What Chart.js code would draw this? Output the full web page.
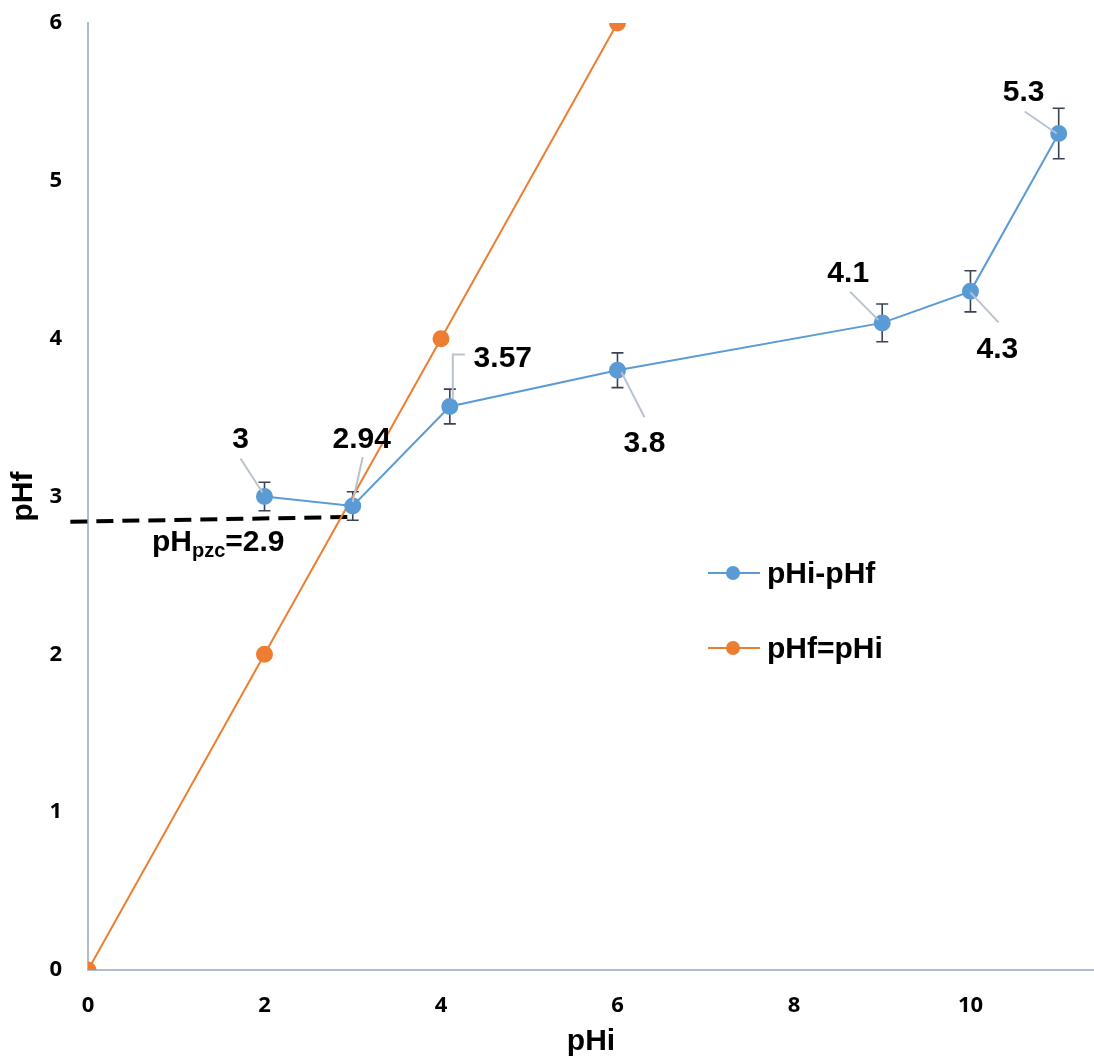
<!DOCTYPE html>
<html>
<head>
<meta charset="utf-8">
<script src="https://cdn.jsdelivr.net/npm/chart.js@4.4.0/dist/chart.umd.min.js"></script>
<style>
  html, body { margin: 0; padding: 0; background: #fff; overflow: hidden; }
  #wrap { width: 1094px; height: 1061px; }
</style>
</head>
<body>
<div id="wrap"><canvas id="chart"></canvas></div>
<script>
// pHi-pHf series (measured)
const pHi = [2, 3, 4.1, 6, 9, 10, 11];
const pHf = [3, 2.94, 3.57, 3.8, 4.1, 4.3, 5.3];
const pHfErr = [0.09, 0.09, 0.11, 0.11, 0.12, 0.13, 0.16];

// pHf = pHi reference line
const refX = [0, 2, 4, 6];
const refY = [0, 2, 4, 6];

// point of zero charge, dashed guide line
const pzcValue = 2.9;
const pzcLineX = [-0.2, 2.95];
const pzcLineY = [2.84, 2.87];

const xTicks = [0, 2, 4, 6, 8, 10];
const yTicks = [0, 1, 2, 3, 4, 5, 6];

// where each value label sits relative to its point (pixels)
const labelOffsets = [
  { dx: -24, dy: -60, leader: [[-24, -38], [-2, -4]] },
  { dx: 9, dy: -69, leader: [[10, -49], [0, -4]] },
  { dx: 53, dy: -51, leader: [[15, -52], [3, -52], [3, -7]] },
  { dx: 27, dy: 71, leader: [[4, 2], [27, 47]] },
  { dx: -34, dy: -52, leader: [[-32, -31], [-4, -3]] },
  { dx: 27, dy: 56, leader: [[0, 1], [28, 31]] },
  { dx: -35, dy: -43, leader: [[-34, -22], [-2, 0]] }
];

const BLUE = '#5b9bd5';
const ORANGE = '#ed7d31';
const AXIS = '#b0bccf';
const LABEL_FONT = 'bold 30px "Liberation Sans", Arial, sans-serif';
const TICK_FONT = { family: 'Open Sans', size: 22, weight: 'bold' };

const errorBars = {
  id: 'errorBars',
  beforeDatasetsDraw(chart) {
    const x = chart.scales.x, y = chart.scales.y, ctx = chart.ctx;
    ctx.save();
    ctx.strokeStyle = '#3a4354';
    ctx.lineWidth = 1.6;
    pHi.forEach((v, i) => {
      const px = x.getPixelForValue(v);
      const top = y.getPixelForValue(pHf[i] + pHfErr[i]);
      const bot = y.getPixelForValue(pHf[i] - pHfErr[i]);
      ctx.beginPath();
      ctx.moveTo(px, top); ctx.lineTo(px, bot);
      ctx.moveTo(px - 6, top); ctx.lineTo(px + 6, top);
      ctx.moveTo(px - 6, bot); ctx.lineTo(px + 6, bot);
      ctx.stroke();
    });
    ctx.restore();
  }
};

const valueLabels = {
  id: 'valueLabels',
  afterDatasetsDraw(chart) {
    const x = chart.scales.x, y = chart.scales.y, ctx = chart.ctx;
    ctx.save();
    pHi.forEach((v, i) => {
      const px = x.getPixelForValue(v);
      const py = y.getPixelForValue(pHf[i]);
      const o = labelOffsets[i];
      ctx.strokeStyle = '#b9c3cf';
      ctx.lineWidth = 2;
      ctx.beginPath();
      o.leader.forEach((p, k) => {
        if (k === 0) ctx.moveTo(px + p[0], py + p[1]);
        else ctx.lineTo(px + p[0], py + p[1]);
      });
      ctx.stroke();
      ctx.fillStyle = '#000';
      ctx.font = LABEL_FONT;
      ctx.textAlign = 'center';
      ctx.textBaseline = 'alphabetic';
      ctx.fillText(String(pHf[i]), px + o.dx, py + o.dy + 11);
    });

    // pHpzc annotation
    let tx = x.getPixelForValue(0) + 64;
    const ty = y.getPixelForValue(pzcValue) + 39;
    ctx.textAlign = 'left';
    ctx.font = LABEL_FONT;
    ctx.fillText('pH', tx, ty);
    tx += ctx.measureText('pH').width;
    ctx.font = 'bold 20px "Liberation Sans", Arial, sans-serif';
    ctx.fillText('pzc', tx, ty + 6);
    tx += ctx.measureText('pzc').width;
    ctx.font = LABEL_FONT;
    ctx.fillText('=' + pzcValue, tx, ty);

    // legend inside plot
    const lx = chart.chartArea.left + 620;
    let ly = chart.chartArea.top + 550;
    chart.data.datasets.slice(0, 2).forEach(ds => {
      ctx.strokeStyle = ds.borderColor;
      ctx.lineWidth = 2;
      ctx.beginPath();
      ctx.moveTo(lx, ly); ctx.lineTo(lx + 52, ly);
      ctx.stroke();
      ctx.fillStyle = ds.backgroundColor;
      ctx.beginPath();
      ctx.arc(lx + 25, ly, 7, 0, Math.PI * 2);
      ctx.fill();
      ctx.fillStyle = '#000';
      ctx.font = LABEL_FONT;
      ctx.textAlign = 'left';
      ctx.fillText(ds.label, lx + 59, ly + 10);
      ly += 75;
    });
    ctx.restore();
  }
};

new Chart(document.getElementById('chart'), {
  type: 'scatter',
  data: {
    datasets: [{
      label: 'pHi-pHf',
      data: pHi.map((v, i) => ({ x: v, y: pHf[i] })),
      showLine: true,
      borderColor: BLUE,
      backgroundColor: BLUE,
      borderWidth: 2,
      pointRadius: 7.5,
      pointHoverRadius: 7.5
    }, {
      label: 'pHf=pHi',
      data: refX.map((v, i) => ({ x: v, y: refY[i] })),
      showLine: true,
      borderColor: ORANGE,
      backgroundColor: ORANGE,
      borderWidth: 2,
      pointRadius: 7.5,
      pointHoverRadius: 7.5
    }, {
      label: 'pzc',
      data: pzcLineX.map((v, i) => ({ x: v, y: pzcLineY[i] })),
      showLine: true,
      borderColor: '#000',
      borderWidth: 4,
      borderDash: [17, 9],
      pointRadius: 0,
      clip: false
    }]
  },
  options: {
    responsive: true,
    maintainAspectRatio: false,
    animation: false,
    layout: { autoPadding: false, padding: { top: 23, right: 0, left: 0, bottom: 0 } },
    plugins: {
      legend: { display: false },
      tooltip: { enabled: false }
    },
    scales: {
      x: {
        type: 'linear',
        min: 0,
        max: 11.4,
        afterFit: s => { s.height = 91; s.paddingLeft = 0; s.paddingRight = 0; },
        afterBuildTicks: s => { s.ticks = xTicks.map(v => ({ value: v })); },
        grid: { display: false, drawTicks: false },
        border: { display: true, color: AXIS, width: 2 },
        ticks: { padding: 23, color: '#000', font: TICK_FONT },
        title: {
          display: true,
          text: 'pHi',
          color: '#000',
          padding: { top: 0, bottom: 1 },
          font: { family: '"Liberation Sans", Arial, sans-serif', size: 30, weight: 'bold' }
        }
      },
      y: {
        type: 'linear',
        min: 0,
        max: 6,
        afterFit: s => { s.width = 88; s.paddingTop = 0; s.paddingBottom = 0; },
        afterBuildTicks: s => { s.ticks = yTicks.map(v => ({ value: v })); },
        grid: { display: false, drawTicks: false },
        border: { display: true, color: AXIS, width: 2 },
        ticks: { padding: 26, color: '#000', font: TICK_FONT },
        title: {
          display: true,
          text: 'pHf',
          color: '#000',
          padding: { top: 6, bottom: 0 },
          font: { family: '"Liberation Sans", Arial, sans-serif', size: 30, weight: 'bold' }
        }
      }
    }
  },
  plugins: [errorBars, valueLabels]
});
</script>
</body>
</html>
